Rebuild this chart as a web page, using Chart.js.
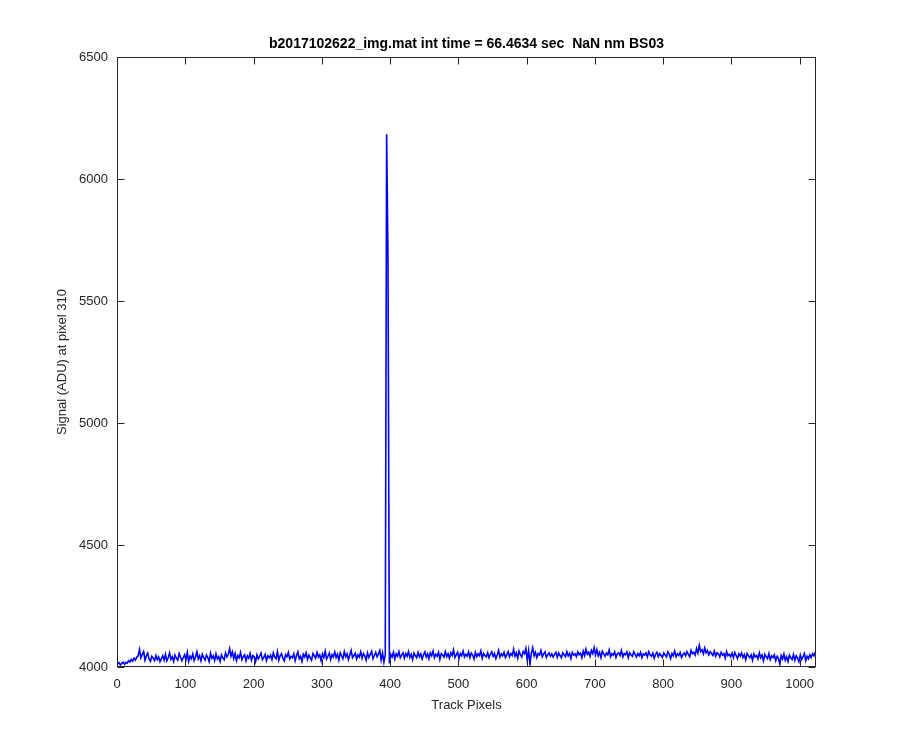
<!DOCTYPE html>
<html><head><meta charset="utf-8">
<script src="https://cdn.jsdelivr.net/npm/chart.js@4"></script>
<style>html,body{margin:0;padding:0;background:#fff}#wrap{width:900px;height:750px}</style>
</head><body><div id="wrap"><canvas id="c" width="900" height="750"></canvas></div>
<script>
const titleText = 'b2017102622_img.mat int time = 66.4634 sec  NaN nm BS03';
const xLabel = 'Track Pixels';
const yLabel = 'Signal (ADU) at pixel 310';
const xTicks = [0,100,200,300,400,500,600,700,800,900,1000];
const yTicks = [4000,4500,5000,5500,6000,6500];
const xStart = 1, xStep = 2;
const signal = [
4012,4018,4008,4015,4020,4011,4019,4016,4026,4021,4031,4024,4036,4028,4041,4045,
4072,4038,4052,4063,4028,4046,4057,4033,4023,4044,4036,4026,4047,4030,4041,4022,
4034,4046,4028,4052,4025,4038,4058,4031,4042,4023,4049,4036,4028,4055,4041,4026,
4038,4050,4030,4060,4023,4044,4034,4054,4026,4041,4063,4033,4046,4025,4052,4038,
4028,4049,4039,4022,4057,4036,4046,4026,4054,4033,4042,4023,4050,4038,4030,4058,
4041,4052,4075,4044,4062,4034,4055,4026,4047,4038,4060,4030,4042,4050,4025,4046,
4036,4055,4028,4047,4041,4022,4050,4033,4044,4057,4030,4039,4052,4026,4046,4038,
4049,4030,4058,4041,4034,4063,4028,4046,4055,4036,4025,4050,4042,4060,4033,4044,
4038,4054,4026,4047,4062,4034,4044,4023,4052,4041,4058,4031,4049,4038,4028,4055,
4046,4036,4060,4041,4050,4026,4054,4039,4065,4033,4044,4057,4030,4050,4041,4062,
4039,4052,4028,4058,4046,4034,4063,4042,4054,4030,4049,4068,4038,4047,4057,4033,
4050,4041,4062,4036,4055,4046,4028,4058,4039,4052,4065,4034,4047,4060,4042,4054,
4068,4028,4057,4020,4050,6183,5670,4015,4052,4041,4060,4033,4054,4044,4063,4038,
4049,4058,4036,4055,4044,4063,4039,4052,4030,4057,4047,4038,4060,4042,4054,4033,
4050,4062,4041,4054,4034,4058,4046,4065,4038,4052,4044,4060,4031,4055,4049,4041,
4063,4042,4054,4036,4058,4047,4070,4039,4050,4060,4034,4055,4046,4065,4041,4052,
4044,4062,4038,4057,4049,4033,4060,4042,4054,4046,4066,4036,4055,4047,4041,4058,
4038,4052,4062,4044,4055,4034,4049,4068,4041,4054,4046,4060,4039,4050,4063,4042,
4055,4047,4073,4044,4058,4036,4065,4050,4041,4063,4054,4076,4028,4068,4012,4057,
4079,4046,4060,4038,4055,4049,4068,4042,4054,4062,4039,4050,4058,4044,4054,4041,
4052,4060,4039,4057,4047,4038,4058,4050,4042,4063,4046,4055,4034,4060,4049,4054,
4042,4062,4050,4057,4038,4065,4047,4073,4052,4060,4044,4068,4055,4079,4049,4071,
4046,4060,4038,4065,4054,4044,4057,4050,4070,4042,4055,4049,4062,4039,4054,4058,
4047,4068,4041,4055,4050,4062,4038,4058,4049,4044,4063,4052,4041,4055,4046,4060,
4038,4054,4049,4058,4041,4063,4050,4044,4057,4036,4052,4060,4042,4055,4047,4039,
4058,4049,4041,4062,4052,4034,4055,4046,4065,4042,4054,4047,4060,4039,4050,4057,
4046,4063,4052,4042,4068,4055,4060,4049,4076,4057,4089,4063,4071,4054,4078,4058,
4068,4050,4062,4055,4047,4065,4044,4058,4054,4041,4060,4049,4055,4036,4063,4046,
4052,4042,4057,4038,4060,4047,4034,4054,4044,4058,4039,4050,4030,4055,4046,4038,
4050,4028,4054,4041,4047,4033,4058,4038,4049,4025,4052,4042,4034,4055,4030,4046,
4039,4050,4026,4044,4036,4012,4047,4033,4054,4028,4042,4023,4049,4038,4031,4052,
4028,4046,4036,4022,4049,4031,4041,4055,4026,4044,4034,4050,4039,4054,4046,4063
];
const pixels = signal.map((_, i) => xStart + i * xStep);
const points = signal.map((v, i) => ({x: pixels[i], y: v}));

const AXC = '#262626';
const FONT = "'Liberation Sans', Arial, Helvetica, sans-serif";

const boxPlugin = {
  id: 'box',
  afterDraw(chart) {
    const {ctx, chartArea: a, scales} = chart;
    ctx.save();
    ctx.strokeStyle = AXC;
    ctx.lineWidth = 1;
    const L = Math.round(a.left) + 0.5, R = Math.round(a.right) - 0.5;
    const T = Math.round(a.top) + 0.5, B = Math.round(a.bottom) - 0.5;
    ctx.strokeRect(L, T, R - L, B - T);
    const tl = 7;
    ctx.beginPath();
    xTicks.forEach(v => {
      const px = Math.round(scales.x.getPixelForValue(v)) + 0.5;
      ctx.moveTo(px, B); ctx.lineTo(px, B - tl);
      ctx.moveTo(px, T); ctx.lineTo(px, T + tl);
    });
    yTicks.forEach(v => {
      const py = Math.round(scales.y.getPixelForValue(v)) + 0.5;
      ctx.moveTo(L, py); ctx.lineTo(L + tl, py);
      ctx.moveTo(R, py); ctx.lineTo(R - tl, py);
    });
    ctx.stroke();
    ctx.restore();
  }
};

new Chart(document.getElementById('c'), {
  type: 'line',
  data: {
    datasets: [{
      data: points,
      borderColor: '#0000ff',
      borderWidth: 1.6,
      pointRadius: 0,
      tension: 0,
      fill: false
    }]
  },
  options: {
    responsive: false,
    devicePixelRatio: 1,
    animation: false,
    layout: {padding: {top: 0, right: 84, bottom: 0, left: 0}},
    plugins: {
      legend: {display: false},
      tooltip: {enabled: false},
      title: {
        display: true,
        text: titleText,
        fullSize: false,
        color: '#000',
        font: {family: FONT, size: 14, weight: 'bold'},
        padding: {top: 36, bottom: 4.2}
      }
    },
    scales: {
      x: {
        type: 'linear',
        min: 0, max: 1024,
        afterBuildTicks: s => { s.ticks = xTicks.map(v => ({value: v})); },
        afterFit: s => { s.height = 83; },
        grid: {display: false, drawTicks: false},
        border: {display: false},
        ticks: {color: AXC, font: {family: FONT, size: 13}, padding: 10, maxRotation: 0, autoSkip: false,
                callback: v => String(v)},
        title: {display: true, text: xLabel, color: AXC, font: {family: FONT, size: 13}, padding: {top: 0, bottom: 37}}
      },
      y: {
        min: 4000, max: 6500,
        afterBuildTicks: s => { s.ticks = yTicks.map(v => ({value: v})); },
        afterFit: s => { s.width = 117; },
        grid: {display: false, drawTicks: false},
        border: {display: false},
        ticks: {color: AXC, font: {family: FONT, size: 13}, padding: 9, autoSkip: false,
                callback: v => String(v)},
        title: {display: true, text: yLabel, color: AXC, font: {family: FONT, size: 13}, padding: {top: 55, bottom: 0}}
      }
    }
  },
  plugins: [boxPlugin]
});
</script>
</body></html>
